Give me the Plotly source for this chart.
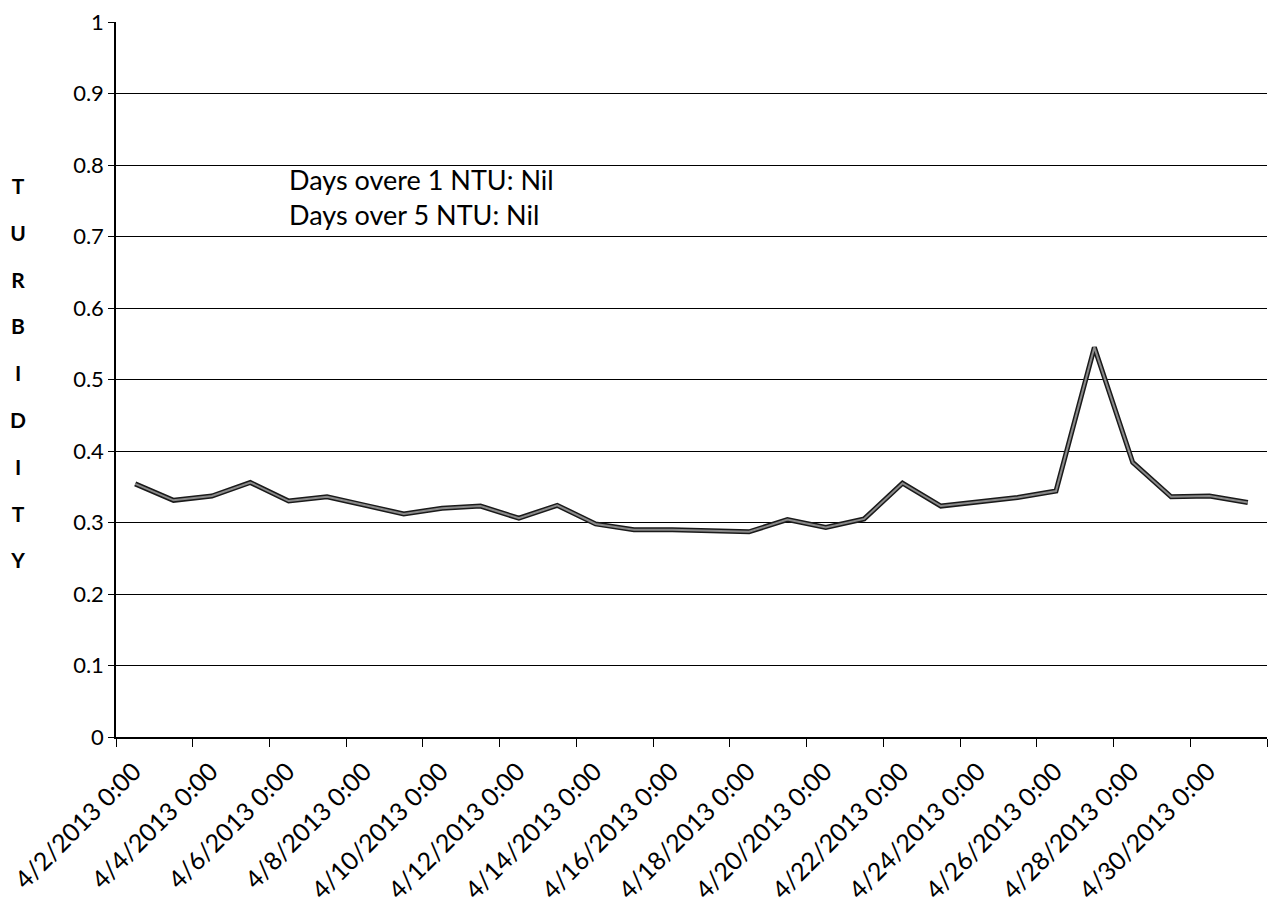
import pandas as pd
import plotly.graph_objects as go

# 일별 탁도 데이터 (2013년 4월)
dates = pd.date_range("2013-04-02", periods=30, freq="D")
turbidity = [0.354, 0.331, 0.337, 0.356, 0.330, 0.336, 0.324, 0.312, 0.320, 0.323,
             0.306, 0.324, 0.298, 0.290, 0.290, 0.288, 0.287, 0.304, 0.293, 0.305,
             0.355, 0.323, 0.329, 0.335, 0.344, 0.545, 0.384, 0.336, 0.337, 0.328]

tick_dates = pd.date_range("2013-04-02", "2013-05-02", freq="2D")
tick_text = [f"{d.month}/{d.day}/{d.year} 0:00" for d in tick_dates[:-1]] + [""]

y_ticks = [0, 0.1, 0.2, 0.3, 0.4, 0.5, 0.6, 0.7, 0.8, 0.9, 1]
y_text = ["0", "0.1", "0.2", "0.3", "0.4", "0.5", "0.6", "0.7", "0.8", "0.9", "1"]

notes = ["Days overe 1 NTU: Nil", "Days over 5 NTU: Nil"]
ylabel = "TURBIDITY"

fig = go.Figure()
# 검은 테두리 + 회색 선 (스캔 느낌)
fig.add_trace(go.Scatter(x=dates, y=turbidity, mode="lines",
                         xperiod=86400000, xperiodalignment="middle",
                         line=dict(color="#1a1a1a", width=5), hoverinfo="skip"))
fig.add_trace(go.Scatter(x=dates, y=turbidity, mode="lines",
                         xperiod=86400000, xperiodalignment="middle",
                         line=dict(color="#8a8a8a", width=2)))

# 세로 글자 y축 제목 (줄 간격은 큰 폰트, 글자는 작은 폰트)
ytitle = "<br>".join("<span style='font-size:21px'><b>%s</b></span>" % c for c in ylabel)

# 페이지 body 기본 여백(8px) 고려
fig.update_layout(
    width=1268, height=908,
    margin=dict(l=108, r=9, t=14, b=179),
    paper_bgcolor="white", plot_bgcolor="white",
    showlegend=False,
    font=dict(family="Lato, 'Liberation Sans', sans-serif", color="black"),
    xaxis=dict(
        type="date", automargin=False,
        range=[tick_dates[0], tick_dates[-1]],
        tickvals=tick_dates, ticktext=tick_text,
        tickangle=-45, tickfont=dict(size=25),
        ticklabelshift=18, ticklabeloverflow="allow",
        showgrid=False, zeroline=False,
        showline=True, linecolor="black", linewidth=2,
        ticks="outside", ticklen=8, tickcolor="black",
    ),
    yaxis=dict(
        range=[0, 1], automargin=False,
        tickvals=y_ticks, ticktext=y_text,
        tickfont=dict(size=22), ticklabeloverflow="allow",
        showgrid=True, gridcolor="black", gridwidth=1,
        zeroline=False,
        showline=True, linecolor="black", linewidth=1.5,
        ticks="outside", ticklen=6, tickcolor="black",
    ),
    annotations=[
        dict(text="<br>".join(notes), xref="paper", yref="paper",
             x=0.149, y=0.806, xanchor="left", yanchor="top",
             align="left", showarrow=False, font=dict(size=27)),
        dict(text=ytitle,
             xref="paper", yref="paper", x=-0.085, y=0.51,
             xanchor="center", yanchor="middle", showarrow=False,
             font=dict(size=36)),
    ],
)

fig.write_html("out.html")
